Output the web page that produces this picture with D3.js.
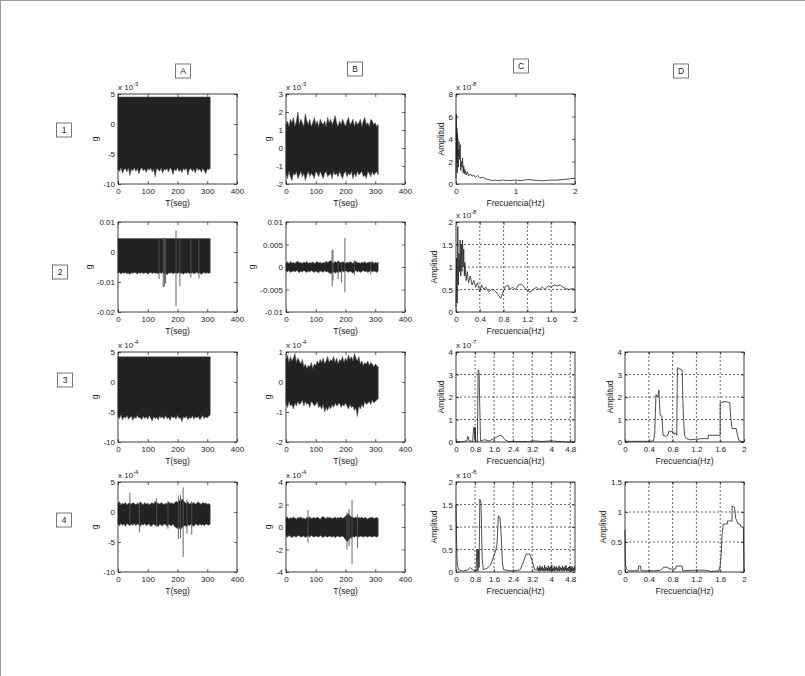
<!DOCTYPE html>
<html>
<head>
<meta charset="utf-8">
<script src="https://cdn.jsdelivr.net/npm/d3@7"></script>
<style>
  body { margin: 0; background: #fff; }
  svg text { font-family: "Liberation Sans", Arial, sans-serif; fill: #222; }
</style>
</head>
<body>
<svg id="fig" width="805" height="676"></svg>
<script>
// ---- datos ----
var colNames = ['A', 'B', 'C', 'D'];
var rowNames = ['1', '2', '3', '4'];

// tiempo de muestreo (s) para las envolventes, cada 5 s
var tSec = [0,5,10,15,20,25,30,35,40,45,50,55,60,65,70,75,80,85,90,95,100,105,110,115,120,125,130,135,140,145,150,155,160,165,170,175,180,185,190,195,200,205,210,215,220,225,230,235,240,245,250,255,260,265,270,275,280,285,290,295,300,305,310];

// fila 1 (x 10^-3)
var hiA1 = 4.5;
var loA1 = [-7.5,-7.9,-7.3,-8.2,-7.6,-7.4,-8.0,-7.3,-8.6,-7.5,-7.8,-7.3,-7.9,-7.4,-8.3,-7.6,-7.3,-7.8,-7.5,-8.1,-7.4,-7.7,-7.3,-8.0,-7.5,-8.8,-7.4,-7.6,-7.9,-7.3,-8.2,-7.5,-7.7,-7.4,-8.0,-7.3,-7.6,-8.4,-7.5,-7.8,-7.3,-7.9,-7.6,-8.1,-7.4,-7.7,-7.3,-8.5,-7.6,-7.4,-7.9,-7.5,-8.2,-7.3,-7.7,-7.5,-8.0,-7.4,-7.8,-8.3,-7.5,-7.6,-7.4];
var hiB1 = [1.3,1.5,1.2,1.6,1.4,1.7,1.2,1.5,2.0,1.3,1.6,1.4,1.2,1.9,1.5,1.3,1.6,1.2,1.4,1.7,1.3,1.5,1.2,1.6,1.4,1.3,1.5,1.2,1.7,1.4,1.6,1.3,1.5,1.8,1.4,1.2,1.5,1.3,1.6,1.4,1.2,1.5,1.7,1.3,1.4,1.6,1.2,1.5,1.3,1.4,1.6,1.2,1.5,1.7,1.3,1.4,1.2,1.6,1.5,1.3,1.4,1.2,1.3];
var loB1 = [-1.4,-1.7,-1.3,-1.6,-1.8,-1.4,-1.5,-1.3,-1.7,-1.5,-1.3,-1.6,-1.4,-1.8,-1.5,-1.3,-1.6,-1.4,-1.5,-1.7,-1.3,-1.4,-1.6,-1.3,-1.5,-1.7,-1.4,-1.3,-1.6,-1.5,-1.4,-1.7,-1.3,-1.5,-1.4,-1.6,-1.3,-1.5,-1.7,-1.4,-1.3,-1.6,-1.4,-1.5,-1.3,-1.7,-1.4,-1.6,-1.3,-1.5,-1.4,-1.3,-1.6,-1.5,-1.7,-1.3,-1.4,-1.6,-1.3,-1.5,-1.4,-1.3,-1.5];

// fila 2 (g)
var hiA2 = 0.0045;
var loA2 = [-0.0070,-0.0068,-0.0073,-0.0069,-0.0071,-0.0068,-0.0072,-0.0070,-0.0075,-0.0069,-0.0071,-0.0068,-0.0070,-0.0073,-0.0069,-0.0071,-0.0068,-0.0072,-0.0070,-0.0069,-0.0074,-0.0070,-0.0068,-0.0072,-0.0069,-0.0071,-0.0070,-0.0073,-0.0068,-0.0071,-0.0069,-0.0072,-0.0070,-0.0076,-0.0069,-0.0071,-0.0068,-0.0073,-0.0070,-0.0069,-0.0072,-0.0068,-0.0071,-0.0070,-0.0074,-0.0069,-0.0071,-0.0068,-0.0072,-0.0070,-0.0069,-0.0073,-0.0070,-0.0068,-0.0071,-0.0069,-0.0075,-0.0070,-0.0068,-0.0072,-0.0069,-0.0071,-0.0070];
var spikesA2 = [[138,0.0045,-0.009],[152,0.0045,-0.0117],[156,0.0045,-0.0115],[160,0.0045,-0.0105],[195,0.0072,-0.018],[208,0.0045,-0.0113],[245,0.0045,-0.0085],[272,0.0045,-0.0088]];
var hiB2 = [0.0009,0.0011,0.0008,0.0012,0.0009,0.0010,0.0008,0.0011,0.0013,0.0009,0.0010,0.0008,0.0011,0.0009,0.0012,0.0008,0.0010,0.0009,0.0011,0.0008,0.0010,0.0012,0.0009,0.0011,0.0008,0.0010,0.0009,0.0013,0.0010,0.0012,0.0015,0.0011,0.0009,0.0012,0.0010,0.0014,0.0011,0.0009,0.0012,0.0010,0.0008,0.0011,0.0009,0.0012,0.0010,0.0008,0.0011,0.0013,0.0009,0.0010,0.0008,0.0011,0.0009,0.0012,0.0008,0.0010,0.0011,0.0009,0.0012,0.0008,0.0010,0.0009,0.0011];
var loB2 = [-0.0009,-0.0011,-0.0008,-0.0012,-0.0010,-0.0009,-0.0011,-0.0008,-0.0010,-0.0013,-0.0009,-0.0011,-0.0008,-0.0010,-0.0012,-0.0009,-0.0011,-0.0008,-0.0010,-0.0012,-0.0009,-0.0011,-0.0013,-0.0009,-0.0010,-0.0012,-0.0008,-0.0011,-0.0010,-0.0013,-0.0015,-0.0012,-0.0010,-0.0014,-0.0011,-0.0013,-0.0010,-0.0012,-0.0009,-0.0011,-0.0008,-0.0010,-0.0012,-0.0009,-0.0011,-0.0014,-0.0010,-0.0008,-0.0011,-0.0009,-0.0012,-0.0010,-0.0008,-0.0011,-0.0009,-0.0012,-0.0010,-0.0008,-0.0011,-0.0009,-0.0010,-0.0012,-0.0009];
var spikesB2 = [[155,0.0037,-0.0043],[158,0.0039,-0.003],[175,0.0012,-0.0027],[187,0.001,-0.0034],[198,0.0065,-0.0056],[230,0.0015,-0.0018],[285,0.0012,-0.0017]];

// fila 3 (x 10^-4)
var hiA3 = 4.2;
var loA3 = [-5.7,-6.1,-5.5,-6.3,-5.8,-6.0,-5.6,-6.2,-5.9,-5.7,-6.4,-5.8,-6.1,-5.6,-6.0,-5.9,-6.3,-5.7,-6.1,-5.8,-6.2,-5.6,-6.0,-6.5,-5.8,-6.1,-5.9,-6.3,-5.7,-6.0,-5.8,-6.2,-5.6,-6.1,-5.9,-6.4,-5.7,-6.0,-5.8,-6.2,-5.6,-6.1,-5.9,-6.6,-5.8,-6.0,-5.7,-6.3,-5.9,-6.1,-5.6,-6.2,-5.8,-6.0,-5.7,-6.3,-5.9,-5.6,-6.1,-5.8,-6.0,-5.7,-5.5];
var hiB3 = [0.75,0.9,0.65,0.85,0.7,0.8,0.95,0.65,0.8,0.7,0.6,0.75,0.5,0.6,0.45,0.55,0.5,0.65,0.45,0.6,0.55,0.7,0.6,0.75,0.65,0.8,0.6,0.7,0.85,0.65,0.75,0.7,0.85,0.65,0.8,0.6,0.75,0.7,0.85,0.65,0.8,0.7,0.9,0.75,0.85,0.7,0.95,0.8,0.7,0.85,0.6,0.7,0.55,0.65,0.6,0.7,0.55,0.65,0.6,0.5,0.6,0.55,0.5];
var loB3 = [-0.7,-0.85,-0.65,-0.8,-0.75,-0.9,-0.7,-0.8,-0.65,-0.75,-0.7,-0.6,-0.8,-0.65,-0.75,-0.7,-0.85,-0.65,-0.7,-0.8,-0.75,-0.65,-0.85,-0.8,-0.9,-0.75,-1.0,-0.85,-0.95,-0.8,-0.9,-0.75,-0.85,-0.7,-0.8,-0.75,-0.7,-0.85,-0.75,-0.8,-0.7,-0.8,-0.9,-0.75,-0.85,-0.8,-0.95,-0.85,-1.15,-0.8,-0.9,-0.75,-0.85,-0.65,-0.75,-0.7,-0.65,-0.75,-0.6,-0.7,-0.65,-0.6,-0.55];

// fila 4 (x 10^-4)
var hiA4 = [1.4,1.7,1.2,1.5,1.3,1.6,1.2,1.4,1.5,1.3,1.6,1.4,1.2,1.5,1.3,1.7,1.4,1.2,1.6,1.3,1.5,1.2,1.4,1.6,1.3,1.8,1.4,1.5,1.3,1.6,1.4,1.2,1.5,1.3,1.7,1.4,1.6,1.3,1.5,1.8,1.6,2.0,1.7,2.2,1.9,1.6,1.4,1.7,1.3,1.5,1.4,1.6,1.3,1.5,1.7,1.4,1.3,1.6,1.4,1.5,1.3,1.4,1.2];
var loA4 = [-2.0,-2.3,-1.9,-2.2,-2.0,-2.4,-1.9,-2.1,-2.3,-2.0,-2.2,-1.9,-2.3,-2.0,-2.1,-2.4,-2.0,-2.2,-1.9,-2.3,-2.1,-2.0,-2.4,-2.2,-2.0,-2.3,-2.1,-2.5,-2.0,-2.2,-2.3,-2.0,-2.1,-2.4,-2.0,-2.2,-2.3,-2.0,-2.4,-2.6,-2.8,-2.5,-3.0,-2.6,-2.4,-2.2,-2.5,-2.1,-2.3,-2.0,-2.2,-2.4,-2.0,-2.1,-2.3,-2.0,-2.2,-2.1,-2.3,-2.0,-2.1,-2.2,-2.0];
var spikesA4 = [[40,3.2,-1.9],[72,1.6,-3.4],[130,2.3,-2.4],[168,1.8,-2.8],[203,2.6,-4.5],[210,2.8,-4.3],[219,4.1,-7.5],[232,2.0,-3.6],[248,1.8,-3.8]];
var hiB4 = [0.8,0.9,0.7,0.85,0.75,0.9,0.8,0.7,0.85,0.8,0.9,0.75,0.8,0.7,0.85,0.8,0.9,0.75,0.8,0.85,0.75,0.9,0.8,0.7,0.85,0.95,0.8,0.75,0.9,0.8,0.85,0.75,0.8,0.9,0.75,0.85,0.8,0.9,0.75,0.85,0.95,1.1,1.2,1.0,0.9,0.85,0.8,0.9,0.75,0.85,0.8,0.9,0.75,0.85,0.8,0.7,0.85,0.8,0.9,0.75,0.8,0.85,0.75];
var loB4 = [-0.8,-0.9,-0.75,-0.85,-0.95,-0.8,-0.85,-0.9,-0.75,-0.8,-0.9,-0.85,-0.8,-0.95,-0.85,-0.8,-0.9,-0.75,-0.85,-0.9,-0.8,-0.85,-0.9,-0.75,-0.85,-0.95,-0.8,-0.85,-0.9,-0.8,-0.85,-0.9,-0.8,-0.95,-0.85,-0.8,-0.9,-0.85,-0.8,-0.95,-1.1,-1.3,-1.2,-1.0,-0.95,-0.85,-0.9,-0.8,-0.85,-0.9,-0.8,-0.85,-0.9,-0.8,-0.85,-0.9,-0.8,-0.85,-0.9,-0.8,-0.85,-0.9,-0.8];
var spikesB4 = [[74,1.5,-1.4],[205,1.3,-2.0],[212,1.6,-1.7],[222,2.4,-3.3],[240,1.1,-1.9]];

// espectros [frecuencia Hz, amplitud]
var specC1 = [[0,0.5],[0.005,6.2],[0.01,2.0],[0.015,5.0],[0.02,1.0],[0.025,4.5],[0.03,2.5],[0.035,3.0],[0.04,1.5],[0.05,3.8],[0.06,2.2],[0.07,3.5],[0.08,1.2],[0.09,2.0],[0.1,1.5],[0.11,2.3],[0.12,1.0],[0.13,1.6],[0.14,0.9],[0.15,1.3],[0.17,0.8],[0.19,1.1],[0.21,0.7],[0.24,0.9],[0.27,0.7],[0.3,0.8],[0.33,0.6],[0.36,0.75],[0.4,0.55],[0.45,0.6],[0.5,0.45],[0.55,0.4],[0.6,0.3],[0.65,0.35],[0.7,0.3],[0.8,0.35],[0.9,0.3],[1.0,0.35],[1.1,0.3],[1.2,0.4],[1.3,0.35],[1.4,0.3],[1.5,0.3],[1.6,0.35],[1.7,0.35],[1.8,0.4],[1.9,0.45],[2.0,0.5]];
var specC2 = [[0,0.1],[0.01,1.2],[0.02,0.2],[0.03,1.9],[0.04,0.6],[0.05,1.3],[0.06,0.9],[0.07,1.6],[0.08,0.8],[0.09,1.5],[0.1,0.9],[0.11,1.6],[0.12,1.0],[0.13,1.4],[0.14,0.8],[0.15,1.1],[0.17,0.7],[0.19,0.9],[0.21,0.65],[0.24,0.8],[0.27,0.6],[0.3,0.7],[0.33,0.55],[0.36,0.65],[0.4,0.45],[0.43,0.6],[0.47,0.5],[0.5,0.55],[0.55,0.45],[0.6,0.5],[0.65,0.48],[0.7,0.4],[0.75,0.3],[0.78,0.4],[0.82,0.55],[0.87,0.6],[0.9,0.5],[0.95,0.55],[1.0,0.5],[1.05,0.6],[1.1,0.62],[1.15,0.55],[1.2,0.48],[1.25,0.45],[1.3,0.5],[1.35,0.55],[1.4,0.5],[1.45,0.55],[1.5,0.5],[1.55,0.58],[1.6,0.55],[1.65,0.6],[1.7,0.58],[1.75,0.6],[1.8,0.55],[1.85,0.52],[1.9,0.5],[1.95,0.52],[2.0,0.5]];
var specC3 = [[0,0],[0.3,0.02],[0.45,0.05],[0.5,0.25],[0.55,0.05],[0.62,0.05],[0.7,0.02],[0.74,0.65],[0.77,0.65],[0.79,0.1],[0.81,0.65],[0.83,0.05],[0.9,0.02],[0.93,3.2],[0.97,3.1],[1.0,1.5],[1.03,0.05],[1.2,0.1],[1.4,0.05],[1.6,0.15],[1.75,0.25],[1.85,0.3],[1.95,0.25],[2.05,0.1],[2.2,0.02],[3.0,0.02],[3.3,0.05],[3.6,0.02],[4.0,0.05],[4.2,0.03],[4.6,0.0],[5.0,0.0]];
var specC4 = [[0,1.5],[0.02,0.8],[0.05,0.2],[0.1,0.05],[0.3,0.02],[0.5,0.05],[0.6,0.1],[0.7,0.05],[0.85,0.02],[0.87,0.5],[0.9,0.5],[0.92,0.02],[0.95,0.5],[0.97,0.1],[1.0,1.62],[1.05,1.55],[1.1,0.3],[1.15,0.05],[1.3,0.08],[1.45,0.15],[1.55,0.3],[1.65,0.45],[1.72,0.6],[1.78,1.25],[1.85,1.2],[1.9,0.8],[1.95,0.2],[2.0,0.05],[2.4,0.02],[2.7,0.05],[2.85,0.25],[2.95,0.4],[3.1,0.4],[3.2,0.25],[3.3,0.05],
  [3.4,0.05],[3.425,0.12],[3.45,0.02],[3.475,0.09],[3.5,0.03],[3.525,0.14],[3.55,0.02],[3.575,0.1],[3.6,0.04],[3.625,0.13],[3.65,0.02],[3.675,0.08],[3.7,0.03],[3.725,0.15],[3.75,0.02],[3.775,0.11],[3.8,0.04],[3.825,0.09],[3.85,0.02],[3.875,0.14],[3.9,0.03],[3.925,0.1],[3.95,0.02],[3.975,0.12],[4.0,0.04],[4.025,0.16],[4.05,0.02],[4.075,0.09],[4.1,0.03],[4.125,0.13],[4.15,0.02],[4.175,0.1],[4.2,0.04],[4.225,0.12],[4.25,0.02],[4.275,0.08],[4.3,0.03],[4.325,0.14],[4.35,0.02],[4.375,0.11],[4.4,0.04],[4.425,0.09],[4.45,0.02],[4.475,0.13],[4.5,0.03],[4.525,0.1],[4.55,0.02],[4.575,0.12],[4.6,0.04],[4.625,0.15],[4.65,0.02],[4.675,0.09],[4.7,0.03],[4.725,0.11],[4.75,0.02],[4.775,0.14],[4.8,0.04],[4.825,0.1],[4.85,0.02],[4.875,0.13],[4.9,0.03],[4.925,0.09],[4.95,0.02],[4.975,0.12],[5.0,0.05]];
var specD3 = [[0,0.03],[0.4,0.03],[0.48,0.05],[0.5,0.4],[0.52,2.1],[0.55,2.0],[0.57,2.3],[0.59,1.2],[0.62,1.15],[0.64,0.3],[0.68,0.25],[0.72,0.3],[0.74,0.5],[0.77,0.45],[0.8,0.5],[0.82,0.35],[0.85,0.4],[0.87,0.3],[0.88,3.3],[0.92,3.25],[0.96,3.2],[0.98,1.2],[1.0,0.3],[1.03,0.15],[1.1,0.1],[1.3,0.15],[1.4,0.15],[1.4,0.3],[1.6,0.3],[1.6,1.75],[1.68,1.8],[1.76,1.75],[1.78,1.0],[1.8,0.6],[1.87,0.6],[1.89,0.3],[1.92,0.05],[2.0,0]];
var specD4 = [[0,0.7],[0.005,0.25],[0.01,0.1],[0.03,0.05],[0.06,0.02],[0.22,0.02],[0.23,0.1],[0.26,0.1],[0.27,0.02],[0.5,0.02],[0.6,0.03],[0.65,0.08],[0.72,0.08],[0.74,0.05],[0.85,0.05],[0.86,0.1],[0.96,0.1],[0.97,0.02],[1.15,0.03],[1.35,0.03],[1.45,0.01],[1.58,0.02],[1.6,0.1],[1.62,0.35],[1.63,0.6],[1.65,0.8],[1.72,0.8],[1.72,0.85],[1.8,0.85],[1.8,1.1],[1.84,1.08],[1.86,0.9],[1.9,0.8],[1.93,0.8],[1.95,0.75],[1.99,0.75],[2.0,0]];

// marcas de los ejes
var tTicks = [0, 100, 200, 300, 400];
var fTicks2 = [0, 0.4, 0.8, 1.2, 1.6, 2];
var fTicks5 = [0, 0.8, 1.6, 2.4, 3.2, 4, 4.8];

// ---- layout ----
var colX = [118, 286, 456, 625],
    rowY = [94, 222, 352, 482],
    plotW = 119,
    plotH = 90;

var panels = [
  {row:0, col:0, kind:'time', hi:hiA1, lo:loA1, ydom:[-10,5], yticks:[-10,-5,0,5], exp:'-3'},
  {row:0, col:1, kind:'time', hi:hiB1, lo:loB1, ydom:[-2,3], yticks:[-2,-1,0,1,2,3], exp:'-3'},
  {row:0, col:2, kind:'spec', data:specC1, xdom:[0,2], xticks:[0,1,2], ydom:[0,8], yticks:[0,2,4,6,8], exp:'-8', grid:false},
  {row:1, col:0, kind:'time', hi:hiA2, lo:loA2, spikes:spikesA2, ydom:[-0.02,0.01], yticks:[-0.02,-0.01,0,0.01]},
  {row:1, col:1, kind:'time', hi:hiB2, lo:loB2, spikes:spikesB2, ydom:[-0.01,0.01], yticks:[-0.01,-0.005,0,0.005,0.01]},
  {row:1, col:2, kind:'spec', data:specC2, xdom:[0,2], xticks:fTicks2, ydom:[0,2], yticks:[0,0.5,1,1.5,2], exp:'-8', grid:true},
  {row:2, col:0, kind:'time', hi:hiA3, lo:loA3, ydom:[-10,5], yticks:[-10,-5,0,5], exp:'-4'},
  {row:2, col:1, kind:'time', hi:hiB3, lo:loB3, ydom:[-2,1], yticks:[-2,-1,0,1], exp:'-4'},
  {row:2, col:2, kind:'spec', data:specC3, xdom:[0,5], xticks:fTicks5, ydom:[0,4], yticks:[0,1,2,3,4], exp:'-7', grid:true},
  {row:2, col:3, kind:'spec', data:specD3, xdom:[0,2], xticks:fTicks2, ydom:[0,4], yticks:[0,1,2,3,4], grid:true},
  {row:3, col:0, kind:'time', hi:hiA4, lo:loA4, spikes:spikesA4, ydom:[-10,5], yticks:[-10,-5,0,5], exp:'-4'},
  {row:3, col:1, kind:'time', hi:hiB4, lo:loB4, spikes:spikesB4, ydom:[-4,4], yticks:[-4,-2,0,2,4], exp:'-4'},
  {row:3, col:2, kind:'spec', data:specC4, xdom:[0,5], xticks:fTicks5, ydom:[0,2], yticks:[0,0.5,1,1.5,2], exp:'-8', grid:true},
  {row:3, col:3, kind:'spec', data:specD4, xdom:[0,2], xticks:fTicks2, ydom:[0,1.5], yticks:[0,0.5,1,1.5], grid:true}
];

var svg = d3.select('#fig');
var fontFam = '"Liberation Sans", Arial, sans-serif';

// marco de la hoja
svg.append('line').attr('x1', 0).attr('y1', 0.5).attr('x2', 805).attr('y2', 0.5).attr('stroke', '#999');
svg.append('line').attr('x1', 0.5).attr('y1', 0).attr('x2', 0.5).attr('y2', 676).attr('stroke', '#999');

// etiquetas en cuadros
function boxLabel(cx, cy, txt) {
  svg.append('rect')
    .attr('x', cx - 7.5).attr('y', cy - 7)
    .attr('width', 15).attr('height', 14)
    .attr('fill', '#fff').attr('stroke', '#555').attr('stroke-width', 0.8);
  svg.append('text')
    .attr('x', cx).attr('y', cy + 3)
    .attr('text-anchor', 'middle')
    .attr('font-size', 8.5)
    .text(txt);
}
var headPos = [[183, 71], [355, 69], [521, 66], [681, 71]];
colNames.forEach(function(n, i) { boxLabel(headPos[i][0], headPos[i][1], n); });
var rowPos = [[64, 130], [60, 272], [65, 380], [64, 520]];
rowNames.forEach(function(n, i) { boxLabel(rowPos[i][0], rowPos[i][1], n); });

function fmt(v) { return String(v); }

function drawPanel(p) {
  var left = colX[p.col], top = rowY[p.row];
  var g = svg.append('g').attr('transform', 'translate(' + left + ',' + top + ')');
  var xdom = p.kind == 'time' ? [0, 400] : p.xdom;
  var xticks = p.kind == 'time' ? tTicks : p.xticks;

  var x = d3.scaleLinear().domain(xdom).range([0, plotW]);
  var y = d3.scaleLinear().domain(p.ydom).range([plotH, 0]);

  g.append('rect').attr('width', plotW).attr('height', plotH).attr('fill', '#fff');

  // grilla punteada
  if (p.grid) {
    g.selectAll('.gx').data(xticks.filter(function(v) { return v > xdom[0] && v < xdom[1]; }))
      .enter().append('line')
      .attr('x1', function(d) { return x(d); }).attr('x2', function(d) { return x(d); })
      .attr('y1', 0).attr('y2', plotH)
      .attr('stroke', '#000').attr('stroke-width', 0.6).attr('stroke-dasharray', '2,2');
    g.selectAll('.gy').data(p.yticks.filter(function(v) { return v > p.ydom[0] && v < p.ydom[1]; }))
      .enter().append('line')
      .attr('x1', 0).attr('x2', plotW)
      .attr('y1', function(d) { return y(d); }).attr('y2', function(d) { return y(d); })
      .attr('stroke', '#000').attr('stroke-width', 0.6).attr('stroke-dasharray', '2,2');
  }

  if (p.kind == 'time') {
    var n = Array.isArray(p.hi) ? Math.min(p.hi.length, p.lo.length, tSec.length) : Math.min(p.lo.length, tSec.length);
    var hiAt = function(i) { return Array.isArray(p.hi) ? p.hi[i] : p.hi; };
    var area = d3.area()
      .x(function(d) { return x(tSec[d]); })
      .y0(function(d) { return y(p.lo[d]); })
      .y1(function(d) { return y(hiAt(d)); });
    g.append('path').datum(d3.range(n))
      .attr('d', area)
      .attr('fill', '#222').attr('stroke', '#555').attr('stroke-width', 0.6);
    if (p.spikes) {
      g.selectAll('.spike').data(p.spikes).enter().append('line')
        .attr('x1', function(d) { return x(d[0]); }).attr('x2', function(d) { return x(d[0]); })
        .attr('y1', function(d) { return y(d[1]); }).attr('y2', function(d) { return y(d[2]); })
        .attr('stroke', '#555').attr('stroke-width', 0.9);
    }
  } else {
    var line = d3.line()
      .x(function(d) { return x(d[0]); })
      .y(function(d) { return y(d[1]); });
    g.append('path').datum(p.data)
      .attr('d', line)
      .attr('fill', 'none').attr('stroke', '#222').attr('stroke-width', 0.8);
  }

  // ejes con marcas hacia adentro
  var axB = g.append('g').attr('transform', 'translate(0,' + plotH + ')')
    .call(d3.axisBottom(x).tickValues(xticks).tickSize(-3).tickPadding(4).tickFormat(fmt));
  var axT = g.append('g')
    .call(d3.axisTop(x).tickValues(xticks).tickSize(-3).tickFormat(''));
  var axL = g.append('g')
    .call(d3.axisLeft(y).tickValues(p.yticks).tickSize(-3).tickPadding(3).tickFormat(fmt));
  var axR = g.append('g').attr('transform', 'translate(' + plotW + ',0)')
    .call(d3.axisRight(y).tickValues(p.yticks).tickSize(-3).tickFormat(''));
  [axB, axT, axL, axR].forEach(function(a) {
    a.attr('font-size', 8).attr('font-family', fontFam).attr('color', '#222');
    a.select('.domain').remove();
    a.selectAll('line').attr('stroke-width', 0.7);
  });
  axB.selectAll('text').attr('dy', '0.75em');

  g.append('rect').attr('width', plotW).attr('height', plotH)
    .attr('fill', 'none').attr('stroke', '#111').attr('stroke-width', 0.8);

  // exponente
  if (p.exp) {
    var et = g.append('text').attr('x', 0).attr('y', -4).attr('font-size', 8).text('x 10');
    et.append('tspan').attr('dy', -4).attr('font-size', 6).text(p.exp);
  }

  // etiquetas de ejes
  var maxW = 0;
  axL.selectAll('text').each(function() { maxW = Math.max(maxW, this.getComputedTextLength()); });
  g.append('text')
    .attr('transform', 'translate(' + (-3 - maxW - 5) + ',' + (plotH / 2) + ') rotate(-90)')
    .attr('text-anchor', 'middle').attr('font-size', 8.5)
    .text(p.kind == 'time' ? 'g' : 'Amplitud');
  g.append('text')
    .attr('x', plotW / 2).attr('y', plotH + 22)
    .attr('text-anchor', 'middle').attr('font-size', 8.5)
    .text(p.kind == 'time' ? 'T(seg)' : 'Frecuencia(Hz)');
}

panels.forEach(drawPanel);
</script>
</body>
</html>
